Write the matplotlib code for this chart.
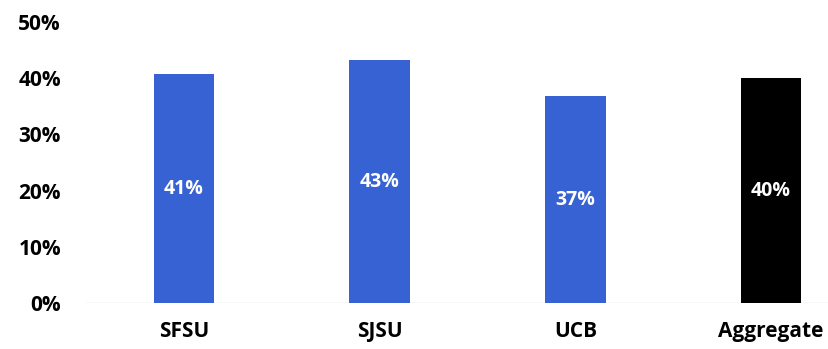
import matplotlib
matplotlib.use("Agg")
import matplotlib.pyplot as plt
from matplotlib.ticker import FuncFormatter

plt.rcParams["font.family"] = ["Open Sans", "DejaVu Sans"]

categories = ["SFSU", "SJSU", "UCB", "Aggregate"]
shares = [0.407, 0.432, 0.368, 0.40]
bar_labels = ["41%", "43%", "37%", "40%"]
colors = ["#3762d4", "#3762d4", "#3762d4", "#000000"]

fig = plt.figure(figsize=(8.29, 3.49), dpi=100)
ax = fig.add_axes([86 / 829, 46 / 349, 783 / 829, 281 / 349])

x = range(len(categories))
bars = ax.bar(x, shares, width=0.31, color=colors, zorder=2)
for b, lab in zip(bars, bar_labels):
    ax.text(b.get_x() + b.get_width() / 2, b.get_height() / 2, lab,
            ha="center", va="center", color="white", fontsize=14, fontweight="bold")

ax.axhline(0, color="#d9d9d9", lw=1, zorder=1)
ax.set_xlim(-0.5, 3.5)
ax.set_ylim(0, 0.5)
ax.set_yticks([0, 0.1, 0.2, 0.3, 0.4, 0.5])
ax.yaxis.set_major_formatter(FuncFormatter(lambda v, _: f"{int(round(v * 100))}%"))
ax.set_xticks(list(x))
ax.set_xticklabels(categories)
for lbl in ax.get_xticklabels() + ax.get_yticklabels():
    lbl.set_fontweight("bold")
    lbl.set_fontsize(15)
ax.tick_params(axis="y", length=0, pad=18)
ax.tick_params(axis="x", length=0, pad=13)
for s in ax.spines.values():
    s.set_visible(False)

fig.savefig("out.png", dpi=100)
